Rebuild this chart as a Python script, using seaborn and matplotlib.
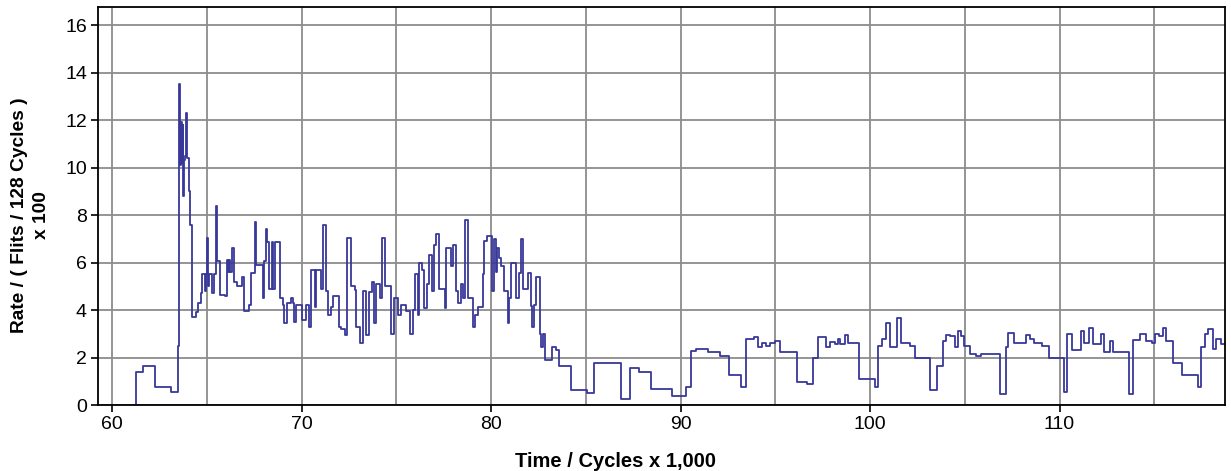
import matplotlib
matplotlib.use("Agg")
import matplotlib.pyplot as plt
from matplotlib.ticker import MultipleLocator
import seaborn as sns
import pandas as pd

# Injection rate trace (step changes), time in thousands of cycles
time_k = [
    61.22, 61.25, 61.62, 62.27, 63.10, 63.47, 63.55, 63.60, 63.64, 63.68,
    63.72, 63.76, 63.80, 63.86, 63.92, 63.98, 64.04, 64.12, 64.20, 64.43,
    64.55, 64.68, 64.77, 64.90, 64.95, 65.02, 65.08, 65.13, 65.26, 65.38,
    65.47, 65.55, 65.72, 65.95, 66.05, 66.12, 66.18, 66.25, 66.35, 66.45,
    66.62, 66.88, 66.98, 67.25, 67.35, 67.55, 67.62, 67.95, 68.03, 68.12,
    68.20, 68.30, 68.45, 68.52, 68.62, 68.88, 69.00, 69.10, 69.25, 69.45,
    69.55, 69.62, 69.72, 70.00, 70.22, 70.42, 70.52, 70.70, 70.75, 71.05,
    71.12, 71.30, 71.42, 71.56, 71.65, 71.96, 72.10, 72.27, 72.40, 72.62,
    72.80, 72.88, 73.06, 73.23, 73.42, 73.55, 73.73, 73.85, 73.94, 74.12,
    74.25, 74.38, 74.70, 74.90, 75.08, 75.26, 75.50, 75.70, 75.88, 76.00,
    76.14, 76.22, 76.35, 76.46, 76.63, 76.75, 76.87, 76.98, 77.10, 77.25,
    77.55, 77.63, 77.90, 78.02, 78.16, 78.25, 78.40, 78.52, 78.64, 78.78,
    79.05, 79.16, 79.30, 79.56, 79.65, 79.80, 80.04, 80.14, 80.25, 80.34,
    80.44, 80.53, 80.66, 80.90, 80.95, 81.06, 81.30, 81.46, 81.60, 81.68,
    81.95, 82.12, 82.18, 82.26, 82.39, 82.57, 82.65, 82.73, 82.83, 83.23,
    83.43, 83.58, 84.24, 85.06, 85.45, 86.88, 87.35, 87.80, 88.46, 89.55,
    90.30, 90.55, 90.80, 91.45, 92.10, 92.56, 93.21, 93.47, 93.86, 94.09,
    94.32, 94.53, 94.74, 94.97, 95.23, 96.16, 96.67, 96.99, 97.25, 97.69,
    97.87, 98.13, 98.31, 98.40, 98.70, 98.84, 99.42, 100.24, 100.42, 100.65,
    100.82, 101.07, 101.44, 101.65, 101.88, 102.09, 102.36, 103.18, 103.53, 103.85,
    104.03, 104.20, 104.47, 104.64, 104.82, 104.94, 105.26, 105.61, 105.88, 106.84,
    107.16, 107.28, 107.58, 108.21, 108.42, 108.63, 108.86, 109.09, 109.44, 110.23,
    110.41, 110.66, 111.15, 111.27, 111.55, 111.76, 112.21, 112.33, 112.64, 112.82,
    113.67, 113.88, 114.26, 114.54, 114.90, 115.02, 115.25, 115.46, 115.63, 115.98,
    116.48, 117.31, 117.48, 117.66, 117.83, 118.09, 118.28, 118.54, 118.75,
]

rate = [
    0.00, 1.40, 1.65, 0.77, 0.53, 2.50, 13.50, 10.10, 11.90, 10.20,
    11.80, 8.80, 10.30, 10.50, 12.30, 10.40, 9.00, 7.60, 3.70, 3.90,
    4.30, 4.70, 5.50, 4.80, 5.50, 7.05, 5.00, 5.50, 4.70, 5.50,
    8.40, 6.05, 4.64, 4.60, 6.10, 5.60, 6.10, 5.60, 6.60, 5.20,
    5.00, 5.40, 3.94, 4.20, 5.55, 7.70, 5.90, 4.50, 6.05, 7.40,
    6.85, 4.90, 6.85, 4.90, 6.85, 4.50, 4.20, 3.45, 4.30, 4.50,
    4.30, 3.50, 4.20, 3.60, 4.20, 3.30, 5.70, 4.14, 5.67, 4.90,
    7.60, 4.80, 3.80, 4.14, 4.60, 3.30, 3.20, 2.95, 7.03, 5.00,
    4.85, 3.30, 2.60, 4.80, 2.95, 4.75, 5.20, 3.45, 5.10, 4.50,
    7.03, 5.00, 3.00, 4.50, 3.80, 4.20, 3.95, 3.00, 4.00, 5.50,
    3.80, 5.98, 5.70, 4.10, 5.10, 6.30, 4.80, 6.75, 7.20, 4.90,
    4.10, 6.60, 5.85, 6.75, 4.80, 4.30, 5.10, 4.50, 7.80, 4.50,
    3.30, 3.80, 4.14, 5.50, 6.90, 7.10, 4.80, 7.00, 5.60, 6.60,
    6.20, 5.85, 4.80, 3.45, 4.50, 6.00, 4.50, 5.55, 7.00, 4.90,
    5.55, 4.15, 3.30, 4.20, 5.40, 3.00, 2.45, 3.00, 1.90, 2.45,
    2.30, 1.64, 0.63, 0.50, 1.79, 0.25, 1.55, 1.37, 0.67, 0.38,
    0.77, 2.29, 2.35, 2.25, 2.07, 1.27, 0.77, 2.77, 2.86, 2.45,
    2.60, 2.47, 2.60, 2.70, 2.25, 0.98, 0.90, 2.00, 2.85, 2.43,
    2.67, 2.56, 2.77, 2.56, 2.96, 2.60, 1.08, 0.77, 2.47, 2.77,
    3.45, 2.45, 3.66, 2.60, 2.63, 2.50, 2.00, 0.63, 1.65, 2.71,
    2.96, 2.90, 2.45, 3.10, 2.90, 2.47, 2.14, 2.06, 2.14, 0.46,
    2.43, 3.05, 2.60, 2.96, 2.80, 2.60, 2.63, 2.47, 2.00, 0.56,
    3.00, 2.30, 3.10, 2.60, 3.25, 2.55, 3.00, 2.25, 2.70, 2.25,
    0.46, 2.73, 3.00, 2.70, 2.60, 3.00, 2.90, 3.25, 2.70, 1.79,
    1.27, 0.75, 2.45, 3.00, 3.20, 2.35, 2.80, 2.55, 2.55,
]

x_ticks = [60, 70, 80, 90, 100, 110]
y_ticks = [0, 2, 4, 6, 8, 10, 12, 14, 16]

df = pd.DataFrame({"time": time_k, "rate": rate})

sns.set_theme(style="white")
plt.rcParams["font.family"] = ["Liberation Sans", "DejaVu Sans"]

fig = plt.figure(figsize=(12.31, 4.71), dpi=100)
ax = fig.add_axes([0.0796, 0.1401, 0.9155, 0.8450])

ax.grid(True, which="both", color="#8c8c8c", linewidth=1.3)
ax.set_axisbelow(True)

sns.lineplot(data=df, x="time", y="rate", ax=ax, estimator=None, sort=False,
             drawstyle="steps-post", color="#38389a", linewidth=1.3)

ax.set_xlim(59.26, 118.73)
ax.set_ylim(0, 16.76)
ax.set_xticks(x_ticks)
ax.set_xticklabels([str(t) for t in x_ticks])
ax.xaxis.set_minor_locator(MultipleLocator(5))
ax.set_yticks(y_ticks)
ax.set_yticklabels([str(t) for t in y_ticks])

ax.tick_params(axis="both", which="major", direction="out", length=5, width=1.2,
               color="black", labelsize=14, labelcolor="black", pad=3,
               bottom=True, left=True)
ax.tick_params(axis="x", which="minor", length=0)

for side in ["left", "bottom", "top", "right"]:
    ax.spines[side].set_color("black")
    ax.spines[side].set_linewidth(1.3)

ax.set_xlabel("")
ax.set_ylabel("")

fig.text(0.5, 0.021, "Time / Cycles x 1,000", ha="center", va="center",
         fontsize=14.5, fontweight="bold", color="black")
fig.text(0.0250, 1 - 215 / 471, "Rate / ( Flits / 128 Cycles )\nx 100",
         ha="center", va="center", rotation=90, multialignment="center",
         fontsize=13.8, fontweight="bold", color="black", linespacing=1.4)

fig.savefig("out.png", dpi=100)
